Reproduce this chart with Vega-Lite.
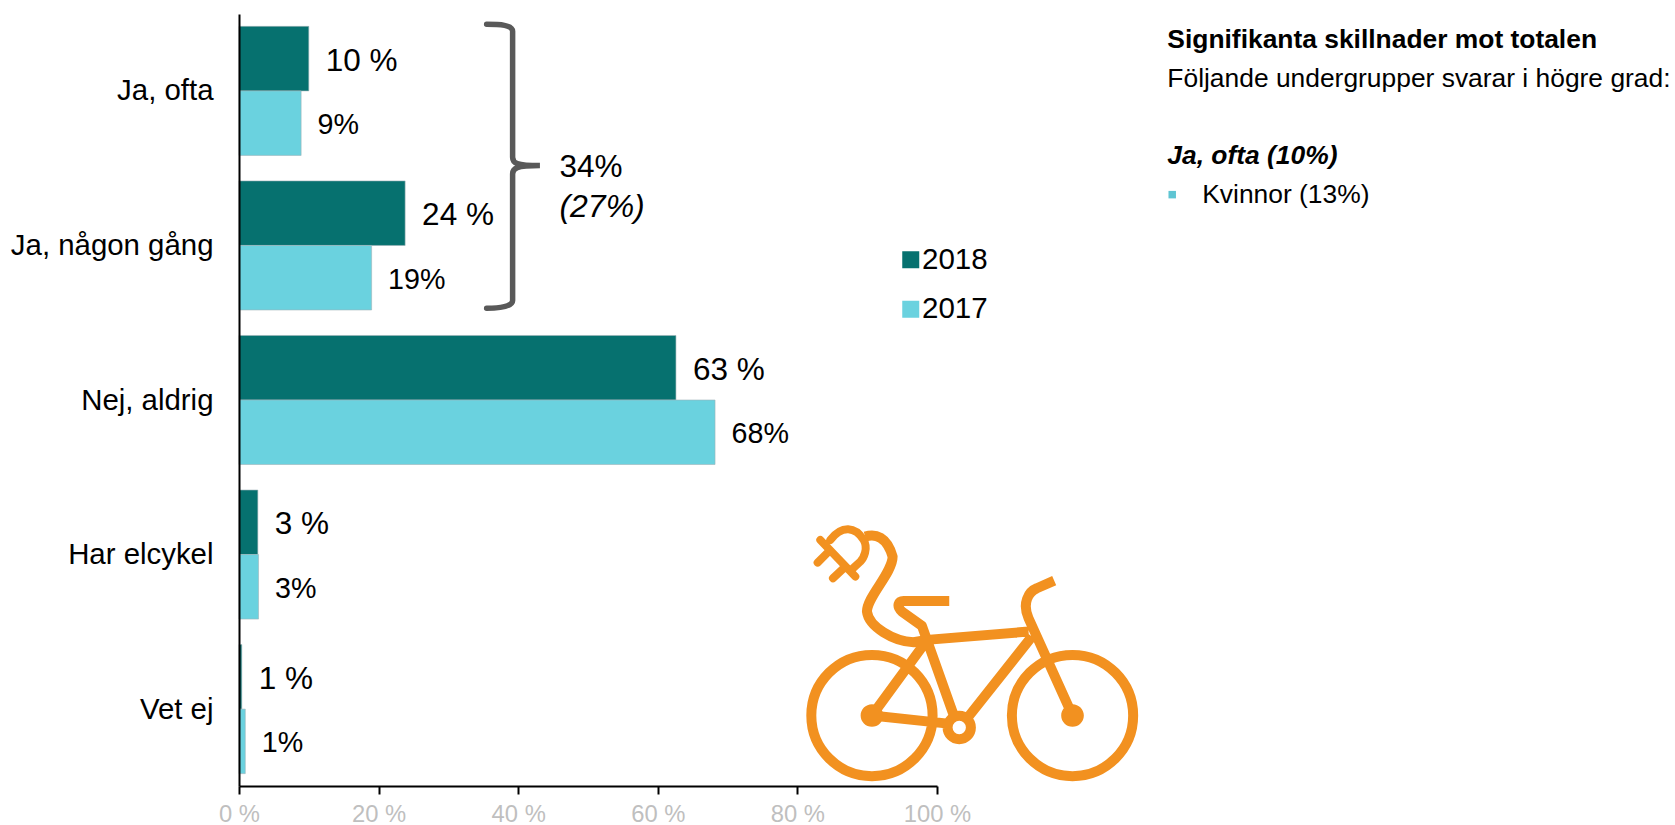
{
"$schema":"https://vega.github.io/schema/vega-lite/v6.json",
"width":698,"height":772,
"autosize":{"type":"none"},
"padding":{"left":239,"top":14,"right":738,"bottom":39},
"background":"white",
"config":{"view":{"stroke":null},"font":"Liberation Sans"},
"datasets":{
"answers":[
{"svar":"Ja, ofta","year":"2018","pct":10.0,"label":"10 %"},
{"svar":"Ja, ofta","year":"2017","pct":8.9,"label":"9%"},
{"svar":"Ja, någon gång","year":"2018","pct":23.8,"label":"24 %"},
{"svar":"Ja, någon gång","year":"2017","pct":19.0,"label":"19%"},
{"svar":"Nej, aldrig","year":"2018","pct":62.6,"label":"63 %"},
{"svar":"Nej, aldrig","year":"2017","pct":68.2,"label":"68%"},
{"svar":"Har elcykel","year":"2018","pct":2.7,"label":"3 %"},
{"svar":"Har elcykel","year":"2017","pct":2.8,"label":"3%"},
{"svar":"Vet ej","year":"2018","pct":0.4,"label":"1 %"},
{"svar":"Vet ej","year":"2017","pct":0.9,"label":"1%"}
]},
"resolve":{"scale":{"y":"independent"}},
"layer":[
{"data":{"name":"answers"},
"mark":{"type":"bar","stroke":"#9fb4b8","strokeWidth":0.6},
"encoding":{
"y":{"field":"svar","type":"nominal","sort":["Ja, ofta","Ja, någon gång","Nej, aldrig","Har elcykel","Vet ej"],
"scale":{"domain":["Ja, ofta","Ja, någon gång","Nej, aldrig","Har elcykel","Vet ej"],"paddingInner":0.165,"paddingOuter":0.08},
"axis":{"title":null,"ticks":false,"domainColor":"#000000","domainWidth":2,"labelFontSize":29.4,"labelColor":"#000000","labelPadding":26,"labelOffset":0.5,"labelLimit":400,"labelOverlap":false,"zindex":1}},
"yOffset":{"field":"year","type":"nominal","scale":{"domain":["2018","2017"],"paddingInner":0,"paddingOuter":0}},
"x":{"field":"pct","type":"quantitative","scale":{"domain":[0,100],"nice":false},
"axis":{"title":null,"values":[0,20,40,60,80,100],"labelExpr":"datum.value + ' %'","grid":false,"domainColor":"#000000","domainWidth":2,"tickColor":"#000000","tickWidth":2,"tickSize":8,"labelFontSize":23.8,"labelColor":"#BFBFBF","labelPadding":8,"labelFlush":false,"zindex":1}},
"color":{"field":"year","type":"nominal","scale":{"domain":["2018","2017"],"range":["#06716F","#6AD2DF"]},
"legend":{"title":null,"orient":"none","legendX":657,"legendY":231,"symbolType":"square","symbolSize":289,"symbolStrokeWidth":0,"labelFontSize":29.5,"labelColor":"#000000","rowPadding":18.5,"labelOffset":-3.5}}
}},
{"data":{"name":"answers"},
"transform":[{"filter":"datum.year === '2018'"}],
"mark":{"type":"text","align":"left","baseline":"middle","dx":17,"dy":3,"fontSize":31.5,"color":"#000000"},
"encoding":{
"y":{"field":"svar","type":"nominal","sort":["Ja, ofta","Ja, någon gång","Nej, aldrig","Har elcykel","Vet ej"],
"scale":{"domain":["Ja, ofta","Ja, någon gång","Nej, aldrig","Har elcykel","Vet ej"],"paddingInner":0.165,"paddingOuter":0.08},"axis":null},
"yOffset":{"field":"year","type":"nominal","scale":{"domain":["2018","2017"],"paddingInner":0,"paddingOuter":0}},
"x":{"field":"pct","type":"quantitative"},
"text":{"field":"label"}
}},
{"data":{"name":"answers"},
"transform":[{"filter":"datum.year === '2017'"}],
"mark":{"type":"text","align":"left","baseline":"middle","dx":16.5,"dy":2,"fontSize":28.7,"color":"#000000"},
"encoding":{
"y":{"field":"svar","type":"nominal","sort":["Ja, ofta","Ja, någon gång","Nej, aldrig","Har elcykel","Vet ej"],
"scale":{"domain":["Ja, ofta","Ja, någon gång","Nej, aldrig","Har elcykel","Vet ej"],"paddingInner":0.165,"paddingOuter":0.08},"axis":null},
"yOffset":{"field":"year","type":"nominal","scale":{"domain":["2018","2017"],"paddingInner":0,"paddingOuter":0}},
"x":{"field":"pct","type":"quantitative"},
"text":{"field":"label"}
}},
{"data":{"values":[{"x":39.2,"row":0.982}]},
"mark":{"type":"point","filled":false,"opacity":1,"size":0.444,"stroke":"#595959","strokeWidth":5.5,"strokeCap":"round","clip":false,
"shape":"M-78,-424 C-40,-424 0,-423 0,-403 L0,-25 C0,-8 10,0 82,0 C10,0 0,8 0,25 L0,405 C0,423 -40,428 -78,428"},
"encoding":{"x":{"field":"x","type":"quantitative"},"y":{"field":"row","type":"quantitative","scale":{"domain":[0,5],"reverse":true,"nice":false,"zero":false},"axis":null}}},
{"data":{"values":[{"x":105,"row":4.14}]},
"mark":{"type":"point","filled":false,"opacity":1,"size":0.444,"stroke":"#F29120","strokeWidth":10,"strokeCap":"butt","strokeJoin":"round",
"shape":"M-482,187 A182,182 0 1 1 -118,187 A182,182 0 1 1 -482,187 Z M120,187 A182,182 0 1 1 484,187 A182,182 0 1 1 120,187 Z M-73,223 A35,35 0 1 1 -3,223 A35,35 0 1 1 -73,223 Z M-135,-40 L170,-65 M180,-50 L-10,190 M-68,-157 L-205,-157 C-220,-157 -228,-142 -210,-125 L-150,-82 L-55,185 M-145,-25 L-300,187 L-65,212 M302,187 L170,-105 C150,-150 170,-185 195,-195 L247,-218 M-320,-350 C-290,-360 -255,-350 -238,-290 C-238,-240 -315,-170 -315,-125 C-310,-80 -235,-35 -175,-33 L-135,-40"},
"encoding":{"x":{"field":"x","type":"quantitative"},"y":{"field":"row","type":"quantitative","scale":{"domain":[0,5],"reverse":true,"nice":false,"zero":false},"axis":null}}},
{"data":{"values":[{"x":105,"row":4.14}]},
"mark":{"type":"point","filled":false,"opacity":1,"size":0.444,"stroke":"#F29120","strokeWidth":8,"strokeCap":"round","strokeJoin":"round",
"shape":"M-455,-340 L-350,-230 M-425,-340 C-390,-385 -350,-380 -325,-340 C-310,-315 -325,-285 -335,-275 L-360,-252 M-463,-272 L-435,-300 M-417,-225 L-385,-255"},
"encoding":{"x":{"field":"x","type":"quantitative"},"y":{"field":"row","type":"quantitative","scale":{"domain":[0,5],"reverse":true,"nice":false,"zero":false},"axis":null}}},
{"data":{"values":[{"x":105,"row":4.14}]},
"mark":{"type":"point","filled":true,"opacity":1,"size":0.444,"fill":"#F29120",
"shape":"M-334,187 A34,34 0 1 1 -266,187 A34,34 0 1 1 -334,187 Z M268,187 A34,34 0 1 1 336,187 A34,34 0 1 1 268,187 Z"},
"encoding":{"x":{"field":"x","type":"quantitative"},"y":{"field":"row","type":"quantitative","scale":{"domain":[0,5],"reverse":true,"nice":false,"zero":false},"axis":null}}},
{"data":{"values":[{"x":45.9,"row":0.995,"t":"34%"}]},
"mark":{"type":"text","align":"left","baseline":"middle","fontSize":31.5,"color":"#000000"},
"encoding":{"x":{"field":"x","type":"quantitative"},"y":{"field":"row","type":"quantitative","scale":{"domain":[0,5],"reverse":true,"nice":false,"zero":false},"axis":null},"text":{"field":"t"}}},
{"data":{"values":[{"x":45.9,"row":1.25,"t":"(27%)"}]},
"mark":{"type":"text","align":"left","baseline":"middle","fontSize":32,"fontStyle":"italic","color":"#000000"},
"encoding":{"x":{"field":"x","type":"quantitative"},"y":{"field":"row","type":"quantitative","scale":{"domain":[0,5],"reverse":true,"nice":false,"zero":false},"axis":null},"text":{"field":"t"}}},
{"data":{"values":[{"x":133,"row":0.168,"t":"Signifikanta skillnader mot totalen"}]},
"mark":{"type":"text","align":"left","baseline":"middle","fontSize":26.4,"fontWeight":"bold","color":"#000000"},
"encoding":{"x":{"field":"x","type":"quantitative"},"y":{"field":"row","type":"quantitative","scale":{"domain":[0,5],"reverse":true,"nice":false,"zero":false},"axis":null},"text":{"field":"t"}}},
{"data":{"values":[{"x":133,"row":0.42,"t":"Följande undergrupper svarar i högre grad:"}]},
"mark":{"type":"text","align":"left","baseline":"middle","fontSize":26.4,"color":"#000000"},
"encoding":{"x":{"field":"x","type":"quantitative"},"y":{"field":"row","type":"quantitative","scale":{"domain":[0,5],"reverse":true,"nice":false,"zero":false},"axis":null},"text":{"field":"t"}}},
{"data":{"values":[{"x":133,"row":0.92,"t":"Ja, ofta (10%)"}]},
"mark":{"type":"text","align":"left","baseline":"middle","fontSize":26.4,"fontWeight":"bold","fontStyle":"italic","color":"#000000"},
"encoding":{"x":{"field":"x","type":"quantitative"},"y":{"field":"row","type":"quantitative","scale":{"domain":[0,5],"reverse":true,"nice":false,"zero":false},"axis":null},"text":{"field":"t"}}},
{"data":{"values":[{"x":138,"row":1.175,"t":"Kvinnor (13%)"}]},
"mark":{"type":"text","align":"left","baseline":"middle","fontSize":26.4,"color":"#000000"},
"encoding":{"x":{"field":"x","type":"quantitative"},"y":{"field":"row","type":"quantitative","scale":{"domain":[0,5],"reverse":true,"nice":false,"zero":false},"axis":null},"text":{"field":"t"}}},
{"data":{"values":[{"x":133.7,"row":1.17}]},
"mark":{"type":"point","shape":"square","filled":true,"opacity":1,"size":56,"fill":"#5FC5D3"},
"encoding":{"x":{"field":"x","type":"quantitative"},"y":{"field":"row","type":"quantitative","scale":{"domain":[0,5],"reverse":true,"nice":false,"zero":false},"axis":null}}}
]
}
